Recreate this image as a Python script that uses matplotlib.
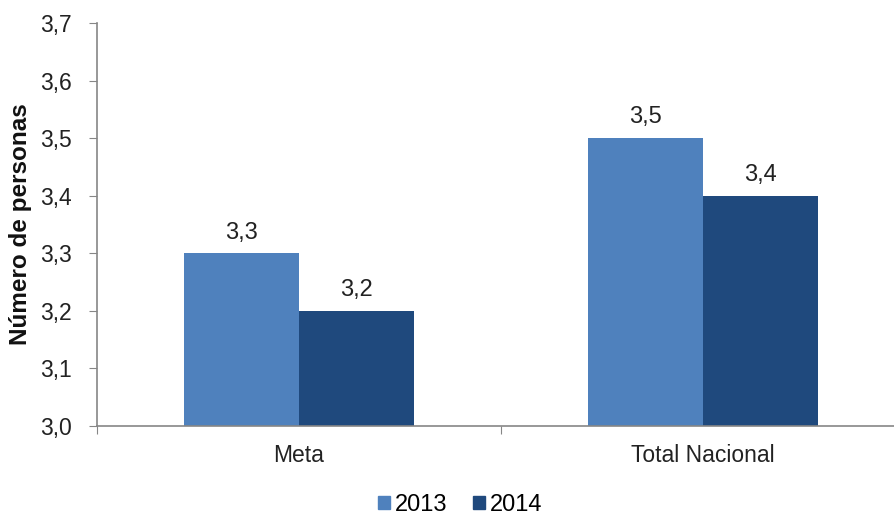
import matplotlib
matplotlib.use("Agg")
import matplotlib.pyplot as plt
import numpy as np
from matplotlib.patches import Patch

categories = ["Meta", "Total Nacional"]
series_names = ["2013", "2014"]
values_2013 = [3.3, 3.5]
values_2014 = [3.2, 3.4]
y_ticks = [3.0, 3.1, 3.2, 3.3, 3.4, 3.5, 3.6, 3.7]

plt.rcParams['font.family'] = ['Liberation Sans', 'DejaVu Sans']

W, H = 894, 517
fig = plt.figure(figsize=(W/100, H/100), dpi=100)
left = 97 / W
right = 905 / W
bottom = 1 - 426 / H
top = 1 - 23 / H
ax = fig.add_axes([left, bottom, right - left, top - bottom])

c2013 = '#4F81BD'
c2014 = '#1F497D'
bw = 0.285
x = np.arange(len(categories))
b1 = ax.bar(x - bw/2, values_2013, bw, color=c2013, label=series_names[0])
b2 = ax.bar(x + bw/2, values_2014, bw, color=c2014, label=series_names[1])

for bars, vals in ((b1, values_2013), (b2, values_2014)):
    for r, v in zip(bars, vals):
        ax.annotate(f"{v:.1f}".replace('.', ','), (r.get_x() + r.get_width()/2, v),
                    xytext=(0, 7), textcoords='offset points', ha='center', va='bottom',
                    fontsize=17, color='#222222')

ax.set_ylim(3.0, 3.7)
ax.set_xlim(-0.5, 1.5)
ax.set_yticks(y_ticks)
ax.set_yticklabels([f"{t:.1f}".replace('.', ',') for t in y_ticks], fontsize=16.5, color='#222222')
ax.set_xticks([-0.5, 0.5, 1.5])
ax.set_xticklabels([])
ax.set_xticks(x, minor=True)
ax.set_xticklabels(categories, minor=True, fontsize=16.5, color='#222222')
ax.tick_params(axis='x', which='minor', length=0, pad=13)
ax.tick_params(axis='x', which='major', length=6, color='#868686', direction='out')
ax.tick_params(axis='y', length=6, color='#868686', direction='out', pad=12)

for s in ('top', 'right'):
    ax.spines[s].set_visible(False)
for s in ('left', 'bottom'):
    ax.spines[s].set_color('#868686')
    ax.spines[s].set_linewidth(1.2)

ax.set_ylabel("Número de personas", fontsize=17.5, fontweight='bold', color='#111111')
ax.yaxis.set_label_coords(-(97 - 32) / 808, 0.5)

handles = [Patch(color=c2013, label=series_names[0]), Patch(color=c2014, label=series_names[1])]
fig.legend(handles=handles, loc='center', bbox_to_anchor=(460 / W, 1 - 505 / H), ncol=2,
           frameon=False, fontsize=17, handlelength=0.5, handleheight=0.5,
           handletextpad=0.2, columnspacing=1.1)

fig.savefig("out.png", dpi=100)
